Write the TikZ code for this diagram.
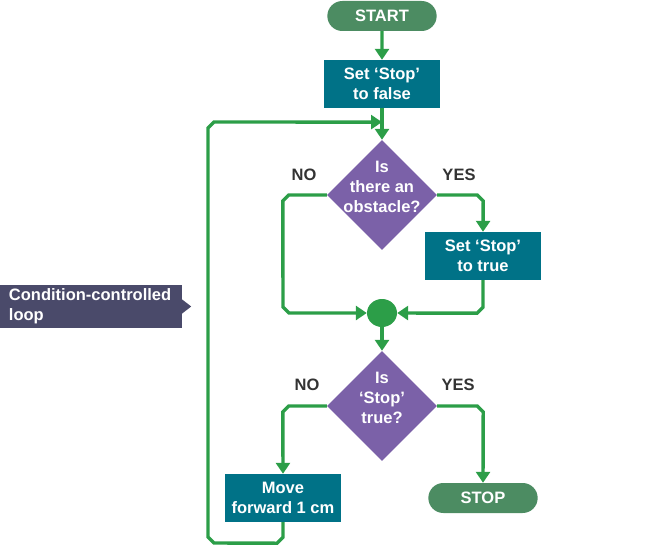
\documentclass[tikz,border=0pt]{standalone}
\usepackage{fontspec}
\setmainfont{Liberation Sans}
\usetikzlibrary{arrows.meta,shapes.geometric,shapes.misc,calc}
\definecolor{flowgreen}{RGB}{44,158,72}
\definecolor{pillgreen}{RGB}{76,140,98}
\definecolor{procteal}{RGB}{0,114,135}
\definecolor{decpurple}{RGB}{123,97,168}
\definecolor{capslate}{RGB}{74,74,106}
\definecolor{yesno}{RGB}{51,51,51}

\begin{document}
\begin{tikzpicture}[x=1pt,y=-1pt,
    every node/.style={font=\fontsize{16.5}{20}\selectfont\bfseries},
    flow/.style={flowgreen, line width=3.4pt, -{Triangle[length=11pt,width=14pt]}},
    pill/.style={rounded rectangle, fill=pillgreen, text=white, minimum width=116pt, minimum height=30pt},
    proc/.style={rectangle, fill=procteal, text=white, align=center, minimum width=116pt, minimum height=48pt, inner sep=0pt},
    decision/.style={diamond, aspect=1, fill=decpurple, minimum size=110pt, inner sep=0pt},
    dectext/.style={text=white, align=center, yshift=8pt},
    answer/.style={text=yesno}]
        \useasboundingbox (0,0) rectangle (652,548);
        % boxes
        \node[pill] (start) at (382,16) {START};
        \node[proc] (setfalse) at (382,84) {Set ‘Stop’\\to false};
        \node[decision] (obst) at (382,195) {};
        \node[dectext] at (obst) {Is\\there an\\obstacle?};
        \node[proc] (settrue) at (483,256) {Set ‘Stop’\\to true};
        \node[ellipse, fill=flowgreen, minimum width=30pt, minimum height=28pt, inner sep=0pt] (merge) at (382,313) {};
        \node[decision] (stopq) at (382,406) {};
        \node[dectext] at (stopq) {Is\\‘Stop’\\true?};
        \node[proc] (move) at (283,498) {Move\\forward 1 cm};
        \node[pill] (stop) at (483,498) {STOP};
        \node[answer] (no1) at (304,175) {NO};
        \node[answer] (yes1) at (459,175) {YES};
        \node[answer] (no2) at (307,385) {NO};
        \node[answer] (yes2) at (458,385) {YES};
        \coordinate (back) at ($(setfalse.south)!0.44!(obst.north)$);
        % connectors
        \draw[flow] (start) -- (setfalse);
        \draw[flow] (setfalse) -- (obst);
        \draw[flow] (obst.west) -- ++(-38,0) -- ++(-6,6) -- (283,307) -- (289,313) -- (merge.west);
        \draw[flow] (obst.east) -- ++(40,0) -- ++(6,6) -- (settrue.north);
        \draw[flow] (settrue.south) -- ++(0,27) -- ++(-6,6) -- (merge.east);
        \draw[flow] (merge) -- (stopq);
        \draw[flow] (stopq.west) -- ++(-38,0) -- ++(-6,6) -- (move.north);
        \draw[flow] (stopq.east) -- ++(40,0) -- ++(6,6) -- (stop.north);
        \draw[flow] (move.south) -- ++(0,15) -- ++(-6,6) -- (214,543) -- (208,537) -- (208,128) -- (214,122) -- (back);
        % caption
        \node[rectangle, fill=capslate, text=white, align=left, text width=164pt, inner xsep=9pt, inner ysep=2pt, minimum height=43pt] (loopcap) at (91,306.5) {Condition-controlled\\loop};
        \fill[capslate] (loopcap.east) ++(0,-7) -- ++(9,7) -- ++(-9,7) -- cycle;
\end{tikzpicture}
\end{document}
